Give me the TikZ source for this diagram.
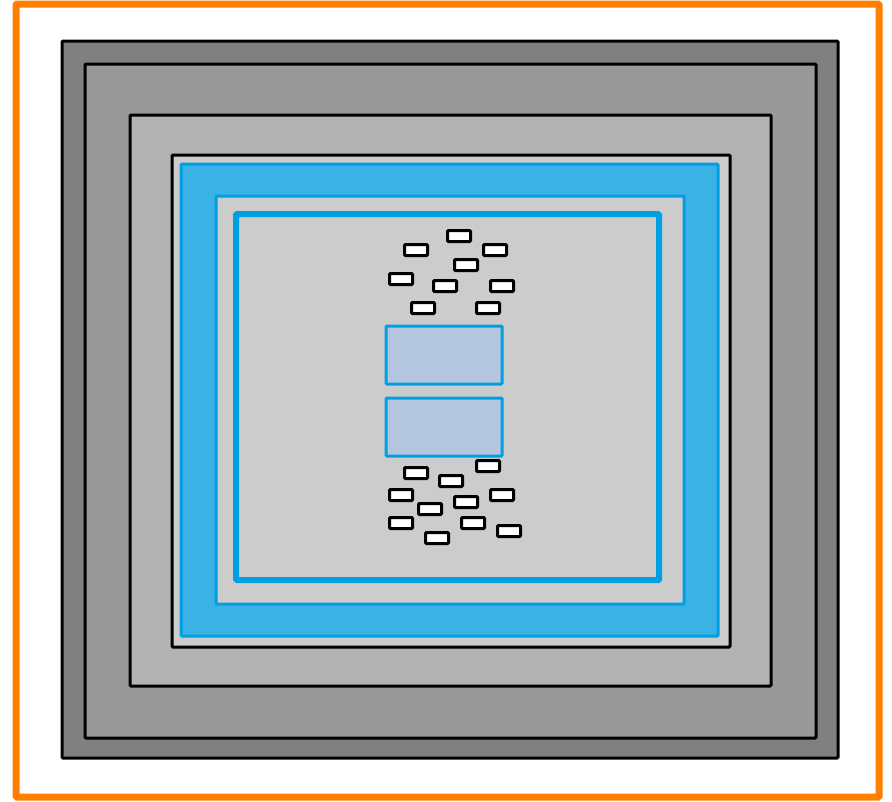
\documentclass[tikz,border=0pt]{standalone}
\usepackage{tikz}
\definecolor{rimorange}{HTML}{FF8000}
\definecolor{greyA}{HTML}{808080}
\definecolor{greyB}{HTML}{999999}
\definecolor{greyC}{HTML}{B3B3B3}
\definecolor{greyD}{HTML}{CCCCCC}
\definecolor{tbblue}{HTML}{009FE3}
\definecolor{tblight}{HTML}{3BB2E6}
\definecolor{tbpale}{HTML}{B3C6DD}

\begin{document}
\begin{tikzpicture}[
x=1pt,y=-1pt,
rim/.style={draw=rimorange,line width=7pt,rounded corners=1pt},
wall/.style={draw=black,line width=3pt,rounded corners=1pt},
lining/.style={draw=tbblue,line width=3pt,rounded corners=1pt},
core/.style={draw=tbblue,line width=6pt,rounded corners=1pt,fill=greyD},
slab/.style={draw=tbblue,line width=3pt,rounded corners=1pt,fill=tbpale},
brick/.style={draw=black,line width=3pt,rounded corners=1pt,fill=white}
]
\useasboundingbox (0,0) rectangle (892,801);
\draw[rim,fill=white] (16,4) rectangle (879,797);
% nested walls
\draw[wall,fill=greyA] (62,41) rectangle (838,758);
\draw[wall,fill=greyB] (85,64) rectangle (816,738);
\draw[wall,fill=greyC] (130,115) rectangle (771,686);
\draw[wall,fill=greyD] (172,155) rectangle (730,647);
% blue layers
\draw[lining,fill=tblight] (181,164) rectangle (718,636);
\draw[lining,fill=greyD] (216,196) rectangle (684,604);
\draw[core] (236,214) rectangle (659,580);
% slabs
\draw[slab] (386,326) rectangle (502,384);
\draw[slab] (386,398) rectangle (502,456);
% bricks
\foreach \x/\y in {459/236,416/250,495/250,466/265,401/279,445/286,502/286,
423/308,488/308,488/466,416/473,451/481,401/495,502/495,466/502,430/509,
401/523,473/523,509/531,437/538}
\draw[brick] (\x,\y) ++(-11.5,-5.5) rectangle ++(23,11);
\end{tikzpicture}
\end{document}
